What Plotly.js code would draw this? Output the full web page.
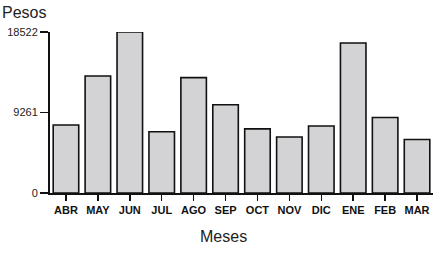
<!DOCTYPE html>
<html>
<head>
<meta charset="utf-8">
<script src="https://cdn.plot.ly/plotly-3.0.1.min.js"></script>
<style>html,body{margin:0;padding:0;background:#fff;}#chart{width:441px;height:254px;}</style>
</head>
<body>
<div id="chart"></div>
<script>
const months = ["ABR","MAY","JUN","JUL","AGO","SEP","OCT","NOV","DIC","ENE","FEB","MAR"];
const pesos = [7820, 13460, 18522, 7050, 13270, 10150, 7380, 6450, 7700, 17250, 8680, 6150];
const yTickVals = [0, 9261, 18522];
const yTickText = ["0", "9261", "18522"];

const trace = {
  type: "bar",
  x: months,
  y: pesos,
  marker: {color: "#d3d3d5", line: {color: "#111", width: 1.6}},
  hoverinfo: "none"
};

const layout = {
  width: 441, height: 254,
  margin: {l: 50, r: 8, t: 32, b: 61},
  paper_bgcolor: "#fff", plot_bgcolor: "#fff",
  bargap: 0.2,
  showlegend: false,
  font: {family: "Liberation Sans, Arial, sans-serif", color: "#222"},
  xaxis: {
    type: "category",
    range: [-0.5, 11.5],
    showline: true, linecolor: "#111", linewidth: 2,
    ticks: "outside", ticklen: 6, tickcolor: "#111", tickwidth: 1.5,
    tickfont: {size: 11, color: "#111", family: "Liberation Sans, Arial, sans-serif", weight: "bold"},
    showgrid: false, zeroline: false
  },
  yaxis: {
    range: [0, 18522],
    tickvals: yTickVals, ticktext: yTickText,
    showline: true, linecolor: "#111", linewidth: 2,
    ticks: "outside", ticklen: 8, tickcolor: "#111", tickwidth: 1.5,
    tickfont: {size: 11, color: "#222"},
    ticklabelstandoff: 0,
    showgrid: false, zeroline: false
  },
  annotations: [
    {text: "Pesos", xref: "paper", yref: "paper", x: -0.13, y: 1.124,
     xanchor: "left", yanchor: "middle", showarrow: false,
     font: {size: 16, color: "#222"}},
    {text: "Meses", xref: "paper", yref: "paper", x: 0.452, y: -0.273,
     xanchor: "center", yanchor: "middle", showarrow: false,
     font: {size: 16, color: "#222"}}
  ]
};

Plotly.newPlot("chart", [trace], layout, {displayModeBar: false, staticPlot: true});
</script>
</body>
</html>
